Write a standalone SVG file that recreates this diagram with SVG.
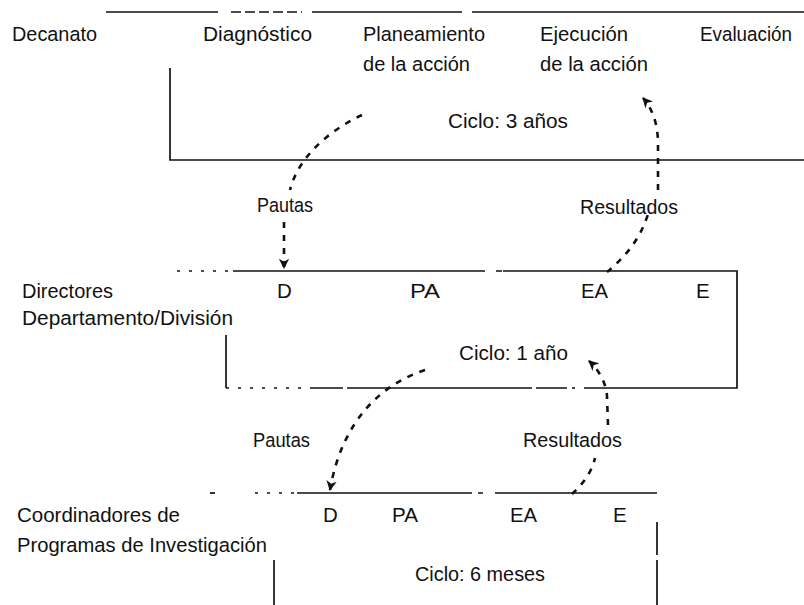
<svg xmlns="http://www.w3.org/2000/svg" width="804" height="605" viewBox="0 0 804 605">
<style>
text{font-family:"Liberation Sans",Arial,sans-serif;font-size:20.5px;fill:#111}
.ln{stroke:#111;stroke-width:1.7;fill:none}
.dot{stroke:#111;stroke-width:1.7;fill:none;stroke-dasharray:3 9}
.cn{stroke:#111;stroke-width:2.6;fill:none;stroke-dasharray:6 7}
</style>
<defs>
<marker id="ah" viewBox="0 0 10 10" refX="9" refY="5" markerWidth="4" markerHeight="4" orient="auto" markerUnits="strokeWidth">
<path d="M0,0 L10,5 L0,10 L3,5 Z" fill="#111"/>
</marker>
</defs>
<rect width="804" height="605" fill="#fff"/>

<g id="decanato">
<path class="ln" d="M106,12 H218 M312,12 H462 M472,12 H804"/>
<path class="ln" d="M231,12 H302" stroke-dasharray="10 4"/>
<path class="ln" d="M170,68 V160 H804"/>
<text x="12" y="41" textLength="85" lengthAdjust="spacingAndGlyphs">Decanato</text>
<text x="203" y="41" textLength="109" lengthAdjust="spacingAndGlyphs">Diagnóstico</text>
<text x="363" y="41" textLength="122" lengthAdjust="spacingAndGlyphs">Planeamiento</text>
<text x="363" y="71" textLength="107" lengthAdjust="spacingAndGlyphs">de la acción</text>
<text x="540" y="41" textLength="88" lengthAdjust="spacingAndGlyphs">Ejecución</text>
<text x="540" y="71" textLength="108" lengthAdjust="spacingAndGlyphs">de la acción</text>
<text x="700" y="41" textLength="92" lengthAdjust="spacingAndGlyphs">Evaluación</text>
<text x="448" y="128" textLength="120" lengthAdjust="spacingAndGlyphs">Ciclo: 3 años</text>
</g>

<g id="directores">
<path class="dot" d="M177,271 H233"/>
<path class="ln" d="M233,271 H485 M496,271 H502 M503,271 H737 V388 H587"/>
<path class="dot" d="M587,388 H567"/>
<path class="ln" d="M567,388 H536 M532,388 H347 M343,388 H313"/>
<path class="dot" d="M313,388 H226"/>
<path class="ln" d="M226,388 V335"/>
<text x="22" y="298" textLength="91" lengthAdjust="spacingAndGlyphs">Directores</text>
<text x="22" y="325" textLength="211" lengthAdjust="spacingAndGlyphs">Departamento/División</text>
<text x="277" y="298">D</text>
<text x="410" y="298" textLength="30" lengthAdjust="spacingAndGlyphs">PA</text>
<text x="581" y="298" textLength="27" lengthAdjust="spacingAndGlyphs">EA</text>
<text x="696" y="298">E</text>
<text x="459" y="360" textLength="109" lengthAdjust="spacingAndGlyphs">Ciclo: 1 año</text>
</g>

<g id="coordinadores">
<path class="ln" d="M210,493 H215"/>
<path class="dot" d="M255,493 H297"/>
<path class="ln" d="M297,493 H472 M478,493 H483 M495,493 H657 M657,522 V555 M657,560 V605 M274,560 V605"/>
<text x="17" y="522" textLength="163" lengthAdjust="spacingAndGlyphs">Coordinadores de</text>
<text x="17" y="552" textLength="250" lengthAdjust="spacingAndGlyphs">Programas de Investigación</text>
<text x="323" y="522">D</text>
<text x="392" y="522" textLength="26" lengthAdjust="spacingAndGlyphs">PA</text>
<text x="510" y="522" textLength="27" lengthAdjust="spacingAndGlyphs">EA</text>
<text x="613" y="522">E</text>
<text x="415" y="581" textLength="130" lengthAdjust="spacingAndGlyphs">Ciclo: 6 meses</text>
</g>

<g id="connectors">
<path class="cn" d="M362,115 C328,131 298,158 290,190"/>
<path class="cn" d="M284,222 L284,268" marker-end="url(#ah)"/>
<text x="257" y="212" textLength="56" lengthAdjust="spacingAndGlyphs">Pautas</text>
<path class="cn" d="M607,272 C624,258 640,240 648,214"/>
<path class="cn" d="M658,190 L658,140 C657,122 652,108 643,98" marker-end="url(#ah)"/>
<text x="580" y="214" textLength="98" lengthAdjust="spacingAndGlyphs">Resultados</text>
<path class="cn" d="M425,370 C382,384 342,420 330,490" marker-end="url(#ah)"/>
<text x="253" y="447" textLength="57" lengthAdjust="spacingAndGlyphs">Pautas</text>
<path class="cn" d="M572,494 C582,485 592,472 595,458"/>
<path class="cn" d="M608,425 L607,396 C606,382 598,369 589,361" marker-end="url(#ah)"/>
<text x="523" y="447" textLength="99" lengthAdjust="spacingAndGlyphs">Resultados</text>
</g>
</svg>
